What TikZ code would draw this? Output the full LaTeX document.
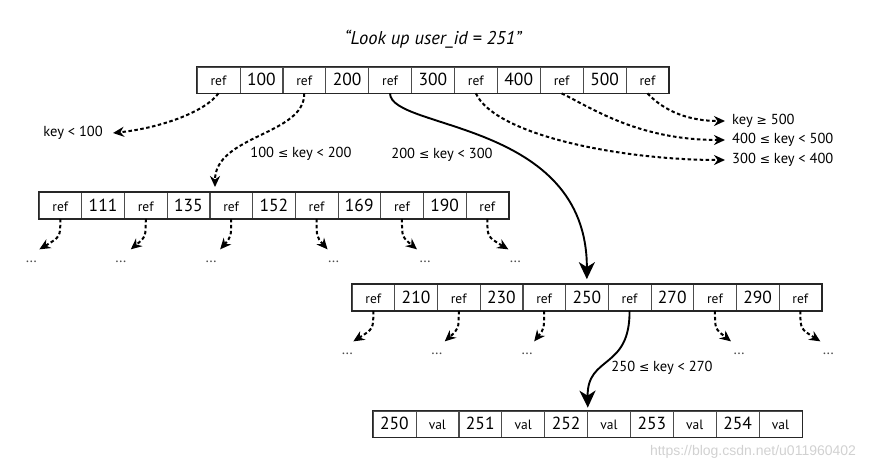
\documentclass[tikz,border=0pt]{standalone}
\usepackage{fontspec}
\setmainfont{PT Sans}
\newfontfamily\symf{DejaVu Sans}[Scale=0.85]
\newfontfamily\wmf{Liberation Sans}
\usetikzlibrary{arrows.meta,positioning,calc}
\newcommand{\leqs}{{\symf ≤}}
\newcommand{\geqs}{{\symf ≥}}

\begin{document}
\begin{tikzpicture}[x=1pt,y=1pt,
    cell/.style={draw=black!70, line width=0.7pt, minimum width=42.8pt, inner sep=0pt, text height=18.7pt, text depth=7.3pt},
    refc/.style={cell, font=\fontsize{13.5}{14}\selectfont},
    keyc/.style={cell, font=\fontsize{17.5}{17}\selectfont},
    frame/.style={draw=black!85, line width=1.5pt},
    lbl/.style={inner sep=1pt, font=\fontsize{14.5}{15}\selectfont},
    more/.style={inner sep=0pt, text=black!70, font=\fontsize{15}{15}\selectfont},
    ptr/.style={line width=2pt, dash pattern=on 3.5pt off 2.5pt, -{Stealth[length=11pt,width=10pt]}},
    jump/.style={line width=1.9pt, -{Stealth[length=17pt,width=16pt,inset=5pt]}}
]
    \useasboundingbox (0,0) rectangle (880,-471);

    \node[font=\itshape\fontsize{18.5}{18}\selectfont] (title) at (433,-39) {“Look up user\_id = 251”};

    % root page
    \foreach \t/\s [count=\i] in {ref/refc,100/keyc,ref/refc,200/keyc,ref/refc,300/keyc,ref/refc,400/keyc,ref/refc,500/keyc,ref/refc}
        \node[\s] (r\i) at ({197+(\i-0.5)*42.9},-80) {\t};
    \draw[frame] (r1.north west) rectangle (r11.south east);

    % page 100..200
    \foreach \t/\s [count=\i] in {ref/refc,111/keyc,ref/refc,135/keyc,ref/refc,152/keyc,ref/refc,169/keyc,ref/refc,190/keyc,ref/refc}
        \node[\s] (l\i) at ({39+(\i-0.5)*42.7},-205.5) {\t};
    \draw[frame] (l1.north west) rectangle (l11.south east);

    % page 200..300
    \foreach \t/\s [count=\i] in {ref/refc,210/keyc,ref/refc,230/keyc,ref/refc,250/keyc,ref/refc,270/keyc,ref/refc,290/keyc,ref/refc}
        \node[\s] (m\i) at ({352+(\i-0.5)*42.7},-297.5) {\t};
    \draw[frame] (m1.north west) rectangle (m11.south east);

    % leaf page
    \foreach \t/\s [count=\i] in {250/keyc,val/refc,251/keyc,val/refc,252/keyc,val/refc,253/keyc,val/refc,254/keyc,val/refc}
        \node[\s] (b\i) at ({373+(\i-0.5)*42.9},-424) {\t};
    \draw[frame] (b1.north west) rectangle (b10.south east);

    % pointers out of the root
    \coordinate (t100) at (113,-133);
    \node[lbl, left=9pt of t100] (k100) {key < 100};
    \draw[ptr] (r1.south) .. controls (205,-112) and (160,-128) .. (t100);

    \coordinate (t200) at (215,-187);
    \node[lbl] (k200) at (301,-154) {100 \leqs{} key < 200};
    \draw[ptr] (r3.south) .. controls (305,-135) and (215,-135) .. (t200);

    \node[lbl] (k300) at (442,-155) {200 \leqs{} key < 300};
    \draw[jump] (r5.south) .. controls (390,-130) and (587,-120) .. ($(m6.north)+(0,5)$);

    \coordinate (t400) at (725,-160);
    \node[lbl, right=6pt of t400] (k400) {300 \leqs{} key < 400};
    \draw[ptr] (r7.south) .. controls (495,-135) and (620,-160) .. (t400);

    \coordinate (t500) at (725,-140);
    \node[lbl, right=6pt of t500] (k500) {400 \leqs{} key < 500};
    \draw[ptr] (r9.south) .. controls (595,-110) and (640,-140) .. (t500);

    \coordinate (t600) at (725,-121);
    \node[lbl, right=6pt of t600] (k600) {key \geqs{} 500};
    \draw[ptr] (r11.south) .. controls (665,-112) and (690,-121) .. (t600);

    % pointers further down
    \foreach \i/\dx/\ex in {1/-21/-8,3/-15/-10,5/-11/-9,7/11/6,9/15/8,11/21/7} {
        \coordinate (lt\i) at ($(l\i.south)+(\dx,-30.5)$);
        \draw[ptr] (l\i.south) .. controls +(0,-18) .. (lt\i);
        \node[more] (ld\i) at ($(lt\i)+(\ex,-12)$) {\dots};
    }
    \foreach \i/\dx/\ex in {1/-20/-6,3/-14/-8,5/-10/-7,9/16/8,11/20/8} {
        \coordinate (mt\i) at ($(m\i.south)+(\dx,-30.5)$);
        \draw[ptr] (m\i.south) .. controls +(0,-18) .. (mt\i);
        \node[more] (md\i) at ($(mt\i)+(\ex,-12)$) {\dots};
    }

    \node[lbl] (k250) at (662,-368) {250 \leqs{} key < 270};
    \draw[jump] (m7.south) .. controls (630,-370) and (587,-355) .. ($(b5.north east)+(0,3)$);

    \node[text=black!18, font=\wmf\fontsize{14}{14}\selectfont] (wm) at (753,-452) {https://blog.csdn.net/u011960402};
\end{tikzpicture}
\end{document}
